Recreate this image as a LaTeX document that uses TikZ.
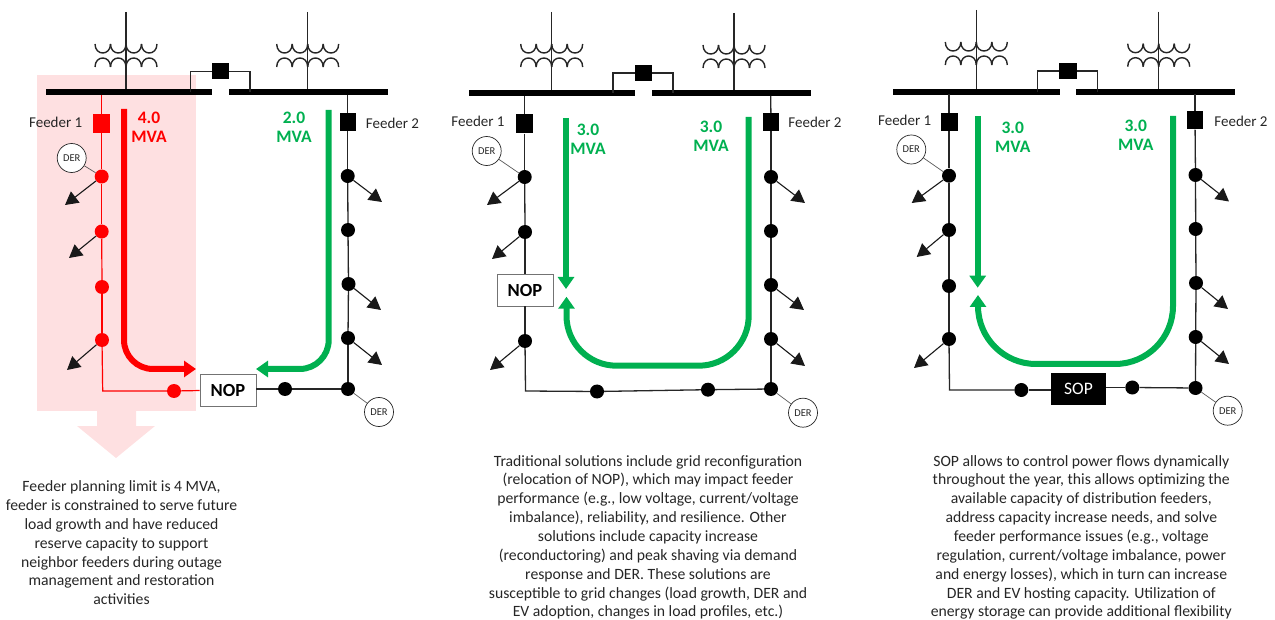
\documentclass[tikz,border=0pt]{standalone}
\usepackage{fontspec}
\setmainfont{Carlito}
\usetikzlibrary{arrows.meta}
\definecolor{flowgreen}{HTML}{00B050}
\definecolor{flowred}{HTML}{FF0000}
\definecolor{pinkband}{HTML}{FEE0E1}
\definecolor{txt}{HTML}{262626}
\tikzset{
  x=1pt,y=-1pt,
  wire/.style={draw=black!85,line width=1.3pt},
  redwire/.style={draw=flowred,line width=1.2pt},
  coil/.style={draw=black!85,line width=1.4pt},
  busbar/.style={fill=black,draw=none,inner sep=0pt,minimum height=6pt},
  sw/.style={fill=black,draw=none,inner sep=0pt},
  redsw/.style={fill=flowred,draw=none,inner sep=0pt},
  busdot/.style={circle,fill=black,draw=none,inner sep=0pt,minimum size=14pt},
  reddot/.style={circle,fill=flowred,draw=none,inner sep=0pt,minimum size=14pt},
  der/.style={circle,draw=black!85,fill=white,line width=0.7pt,inner sep=0pt,minimum size=29pt,font=\fontsize{10.5}{12}\selectfont,text=txt},
  derlink/.style={draw=black!65,line width=0.7pt},
  loadarrow/.style={draw=black!90,line width=1.1pt,-{Triangle[length=13pt,width=14pt]}},
  flowg/.style={draw=flowgreen,line width=6pt,-{Triangle[length=12pt,width=16pt]}},
  flowr/.style={draw=flowred,line width=6pt,-{Triangle[length=12pt,width=16pt]}},
  opbox/.style={draw=black!55,fill=white,line width=0.9pt,inner sep=0pt,minimum width=56pt,minimum height=32pt,font=\fontsize{18.5}{20}\selectfont\bfseries,text=black},
  sopbox/.style={draw=none,fill=black,inner sep=0pt,minimum width=55pt,minimum height=32pt,font=\fontsize{17.5}{20}\selectfont,text=white},
  flabel/.style={font=\fontsize{15}{18}\selectfont,text=txt,inner sep=0pt},
  mvag/.style={font=\fontsize{17.5}{20}\selectfont\bfseries,text=flowgreen,inner sep=0pt},
  mvar/.style={font=\fontsize{17.5}{20}\selectfont\bfseries,text=flowred,inner sep=0pt},
  para/.style={align=center,font=\fontsize{15.7}{18.85}\selectfont,text=txt,inner sep=0pt,anchor=north},
}
% transformer: name, x, top y, bus y
\newcommand\trafo[4]{%
  \coordinate (#1t) at (#2,#3);
  \coordinate (#1b) at (#2,#4);
  \draw[wire] (#1t) -- (#1b);
  \foreach \k in {-2,-1,0,1}{
    \draw[coil] ({#2+\k*15.5},#3+32) .. controls ({#2+\k*15.5},#3+44) and ({#2+(\k+1)*15.5},#3+44) .. ({#2+(\k+1)*15.5},#3+32);
    \draw[coil] ({#2+\k*15.5},#3+55) .. controls ({#2+\k*15.5},#3+43) and ({#2+(\k+1)*15.5},#3+43) .. ({#2+(\k+1)*15.5},#3+55);
  }
}
\newcommand\busbars[6]{% prefix, y, l1, r1, l2, r2
  \path[busbar,fill=black] (#3,#2-3) rectangle (#4,#2+3);
  \path[busbar,fill=black] (#5,#2-3) rectangle (#6,#2+3);
}
\newcommand\tie[6]{% name,sqx,sqy,leftx,rightx,busy
  \node[sw,minimum width=17.5pt,minimum height=16pt] (#1) at (#2,#3) {};
  \coordinate (#1l) at (#4,#6);
  \coordinate (#1r) at (#5,#6);
  \draw[wire] (#1.west) -| (#1l);
  \draw[wire] (#1.east) -| (#1r);
}
\newcommand\dotn[3]{\node[busdot] (#1) at (#2,#3) {};}
\newcommand\rdot[3]{\node[reddot] (#1) at (#2,#3) {};}
\newcommand\load[4]{\coordinate (#1t) at (#3,#4); \draw[loadarrow] (#2) -- (#1t);}
\newcommand\mva[5]{\node[#1] (#2a) at (#3,#4) {#5}; \node[#1] (#2b) at (#3,#4+18.5) {MVA};}
\begin{document}
\begin{tikzpicture}
\useasboundingbox (0,0) rectangle (1275,620);
% ---------------- planning-limit band
\path[fill=pinkband] (37,75) rectangle (195.5,411);
\path[fill=pinkband] (97,411) -- (136,411) -- (136,426) -- (155,426) -- (116,458) -- (77,426) -- (97,426) -- cycle;

% ---------------- panel 1
\trafo{aa}{126}{12}{92}
\trafo{ab}{307.7}{12}{92}
\busbars{a}{92.5}{46}{212}{229}{388}
\tie{atie}{220.5}{71.5}{190.7}{250}{92}
\coordinate (abl) at (101.7,95);
\coordinate (abr) at (347.7,95);
\node[redsw,minimum width=17pt,minimum height=19pt] (asl) at (101.7,123.5) {};
\node[sw,minimum width=16pt,minimum height=18pt] (asr) at (347.7,122) {};
\node[flabel] (afl) at (55.7,122) {Feeder 1};
\node[flabel] (afr) at (392.5,123) {Feeder 2};
\rdot{al1}{101.7}{176.5}\rdot{al2}{101.7}{231.5}\rdot{al3}{102}{287}\rdot{al4}{102}{340}
\coordinate (alc) at (102.7,391);
\rdot{al5}{174}{391}
\node[opbox] (anop) at (228,390) {NOP};
\dotn{ar1}{347.7}{176}\dotn{ar2}{348}{230}\dotn{ar3}{348.5}{284}\dotn{ar4}{348}{338}\dotn{ar5}{348}{389}
\dotn{ar6}{285}{389}
\draw[redwire] (abl) -- (asl);
\draw[redwire] (asl) -- (al1);
\draw[redwire] (al1) -- (al2);
\draw[redwire] (al2) -- (al3);
\draw[redwire] (al3) -- (al4);
\draw[redwire] (al4) -- (alc) -- (al5);
\draw[redwire] (al5) -- (anop);
\draw[wire] (abr) -- (asr);
\draw[wire] (asr) -- (ar1);
\draw[wire] (ar1) -- (ar2);
\draw[wire] (ar2) -- (ar3);
\draw[wire] (ar3) -- (ar4);
\draw[wire] (ar4) -- (ar5);
\draw[wire] (ar5) -- (ar6);
\draw[wire] (ar6) -- (anop.east |- ar6);
\node[der] (ad1) at (71.7,158) {DER};
\node[der] (ad2) at (379,412) {DER};
\draw[derlink] (ad1) -- (al1);
\draw[derlink] (ad2) -- (ar5);
\load{aL1}{al1}{65}{205}\load{aL2}{al2}{69}{258}\load{aL3}{al4}{67}{370}
\load{aR1}{ar1}{382}{202}\load{aR2}{ar3}{381}{310}\load{aR3}{ar4}{382}{365}
\coordinate (af1) at (124,109);\coordinate (af2) at (124,369);\coordinate (af3) at (196,369);
\draw[flowr,rounded corners=29pt] (af1) -- (af2) -- (af3);
\coordinate (af4) at (328.7,110);\coordinate (af5) at (328.7,369);\coordinate (af6) at (256,369);
\draw[flowg,rounded corners=29pt] (af4) -- (af5) -- (af6);
\mva{mvar}{am1}{149}{118}{4.0}
\mva{mvag}{am2}{294}{118}{2.0}
\node[para] (atext) at (121.5,480.5) {Feeder planning limit is 4 MVA,\\feeder is constrained to serve future\\load growth and have reduced\\reserve capacity to support\\neighbor feeders during outage\\management and restoration\\activities};

% ---------------- panel 2
\trafo{ba}{551.7}{12}{93}
\trafo{bb}{734}{13}{93}
\busbars{b}{93.3}{469}{635}{652}{811}
\tie{btie}{643.5}{73}{613}{673}{93}
\coordinate (bbl) at (524.7,96);
\coordinate (bbr) at (770.7,96);
\node[sw,minimum width=17pt,minimum height=19pt] (bsl) at (524.7,124) {};
\node[sw,minimum width=16pt,minimum height=18pt] (bsr) at (771,122) {};
\node[flabel] (bfl) at (478,121.5) {Feeder 1};
\node[flabel] (bfr) at (815,122) {Feeder 2};
\dotn{bl1}{524.7}{177}\dotn{bl2}{525}{232}\dotn{bl4}{525}{341}
\node[opbox] (bnop) at (525,290) {NOP};
\coordinate (blc) at (525.5,391);
\dotn{bl5}{597}{391.5}\dotn{bl6}{708}{389.7}
\dotn{br1}{771}{177}\dotn{br2}{771}{231}\dotn{br3}{771}{285}\dotn{br4}{771}{339}\dotn{br5}{771}{389}
\draw[wire] (bbl) -- (bsl);
\draw[wire] (bsl) -- (bl1);
\draw[wire] (bl1) -- (bl2);
\draw[wire] (bl2) -- (bnop);
\draw[wire] (bnop) -- (bl4);
\draw[wire] (bl4) -- (blc) -- (bl5);
\draw[wire] (bl5) -- (bl6);
\draw[wire] (bl6) -- (br5);
\draw[wire] (bbr) -- (bsr);
\draw[wire] (bsr) -- (br1);
\draw[wire] (br1) -- (br2);
\draw[wire] (br2) -- (br3);
\draw[wire] (br3) -- (br4);
\draw[wire] (br4) -- (br5);
\node[der] (bd1) at (486.7,151) {DER};
\node[der] (bd2) at (803,412.7) {DER};
\draw[derlink] (bd1) -- (bl1);
\draw[derlink] (bd2) -- (br5);
\load{bL1}{bl1}{487}{205}\load{bL2}{bl2}{492}{259}\load{bL3}{bl4}{490}{370}
\load{bR1}{br1}{805}{203}\load{bR2}{br3}{804}{310}\load{bR3}{br4}{805}{366}
\coordinate (bf1) at (566,118);\coordinate (bf2) at (566,289);
\draw[flowg] (bf1) -- (bf2);
\coordinate (bf3) at (748.7,117);\coordinate (bf4) at (748.7,365.7);\coordinate (bf5) at (566.5,365.7);\coordinate (bf6) at (566.5,296.7);
\draw[flowg,rounded corners=50pt] (bf3) -- (bf4) -- (bf5) -- (bf6);
\mva{mvag}{bm1}{588}{130}{3.0}
\mva{mvag}{bm2}{711}{127}{3.0}
\node[para] (btext) at (648,455) {Traditional solutions include grid reconfiguration\\(relocation of NOP), which may impact feeder\\performance (e.g., low voltage, current/voltage\\imbalance), reliability, and resilience. Other\\solutions include capacity increase\\(reconductoring) and peak shaving via demand\\response and DER. These solutions are\\susceptible to grid changes (load growth, DER and\\EV adoption, changes in load profiles, etc.)};

% ---------------- panel 3
\trafo{ca}{976.3}{10}{91.7}
\trafo{cb}{1158.7}{11.7}{91.7}
\busbars{c}{91.7}{893}{1060}{1076}{1235}
\tie{ctie}{1068}{71}{1037.7}{1097.7}{91.7}
\coordinate (cbl) at (949,94);
\coordinate (cbr) at (1195,94);
\node[sw,minimum width=17pt,minimum height=18.5pt] (csl) at (949,122) {};
\node[sw,minimum width=16pt,minimum height=18pt] (csr) at (1195,120.5) {};
\node[flabel] (cfl) at (904.7,120) {Feeder 1};
\node[flabel] (cfr) at (1241,121) {Feeder 2};
\dotn{cl1}{949}{175.7}\dotn{cl2}{949}{230}\dotn{cl3}{949}{286}\dotn{cl4}{949}{339}
\coordinate (clc) at (949.5,390);
\dotn{cl5}{1021.3}{390}
\node[sopbox] (csop) at (1078.5,389) {SOP};
\dotn{cl6}{1132.3}{387.5}
\dotn{cr1}{1195.5}{175}\dotn{cr2}{1195.7}{229}\dotn{cr3}{1196}{283}\dotn{cr4}{1195.7}{337}\dotn{cr5}{1195.5}{388}
\draw[wire] (cbl) -- (csl);
\draw[wire] (csl) -- (cl1);
\draw[wire] (cl1) -- (cl2);
\draw[wire] (cl2) -- (cl3);
\draw[wire] (cl3) -- (cl4);
\draw[wire] (cl4) -- (clc) -- (cl5);
\draw[wire] (cl5) -- (csop.west |- cl5);
\draw[wire] (csop.east |- cl6) -- (cl6);
\draw[wire] (cl6) -- (cr5);
\draw[wire] (cbr) -- (csr);
\draw[wire] (csr) -- (cr1);
\draw[wire] (cr1) -- (cr2);
\draw[wire] (cr2) -- (cr3);
\draw[wire] (cr3) -- (cr4);
\draw[wire] (cr4) -- (cr5);
\node[der] (cd1) at (911.3,149.5) {DER};
\node[der] (cd2) at (1227.7,410.7) {DER};
\draw[derlink] (cd1) -- (cl1);
\draw[derlink] (cd2) -- (cr5);
\load{cL1}{cl1}{911.7}{203}\load{cL2}{cl2}{916.7}{257}\load{cL3}{cl4}{914}{368}
\load{cR1}{cr1}{1229}{201.5}\load{cR2}{cr3}{1228}{309}\load{cR3}{cr4}{1229}{364}
\coordinate (cf1) at (977.7,116);\coordinate (cf2) at (977.7,287.7);
\draw[flowg] (cf1) -- (cf2);
\coordinate (cf3) at (1173,116);\coordinate (cf4) at (1173,364);\coordinate (cf5) at (978,364);\coordinate (cf6) at (978,295);
\draw[flowg,rounded corners=58pt] (cf3) -- (cf4) -- (cf5) -- (cf6);
\mva{mvag}{cm1}{1012.7}{128}{3.0}
\mva{mvag}{cm2}{1135.7}{126}{3.0}
\node[para] (ctext) at (1081.3,455) {SOP allows to control power flows dynamically\\throughout the year, this allows optimizing the\\available capacity of distribution feeders,\\address capacity increase needs, and solve\\feeder performance issues (e.g., voltage\\regulation, current/voltage imbalance, power\\and energy losses), which in turn can increase\\DER and EV hosting capacity. Utilization of\\energy storage can provide additional flexibility};
\end{tikzpicture}
\end{document}
